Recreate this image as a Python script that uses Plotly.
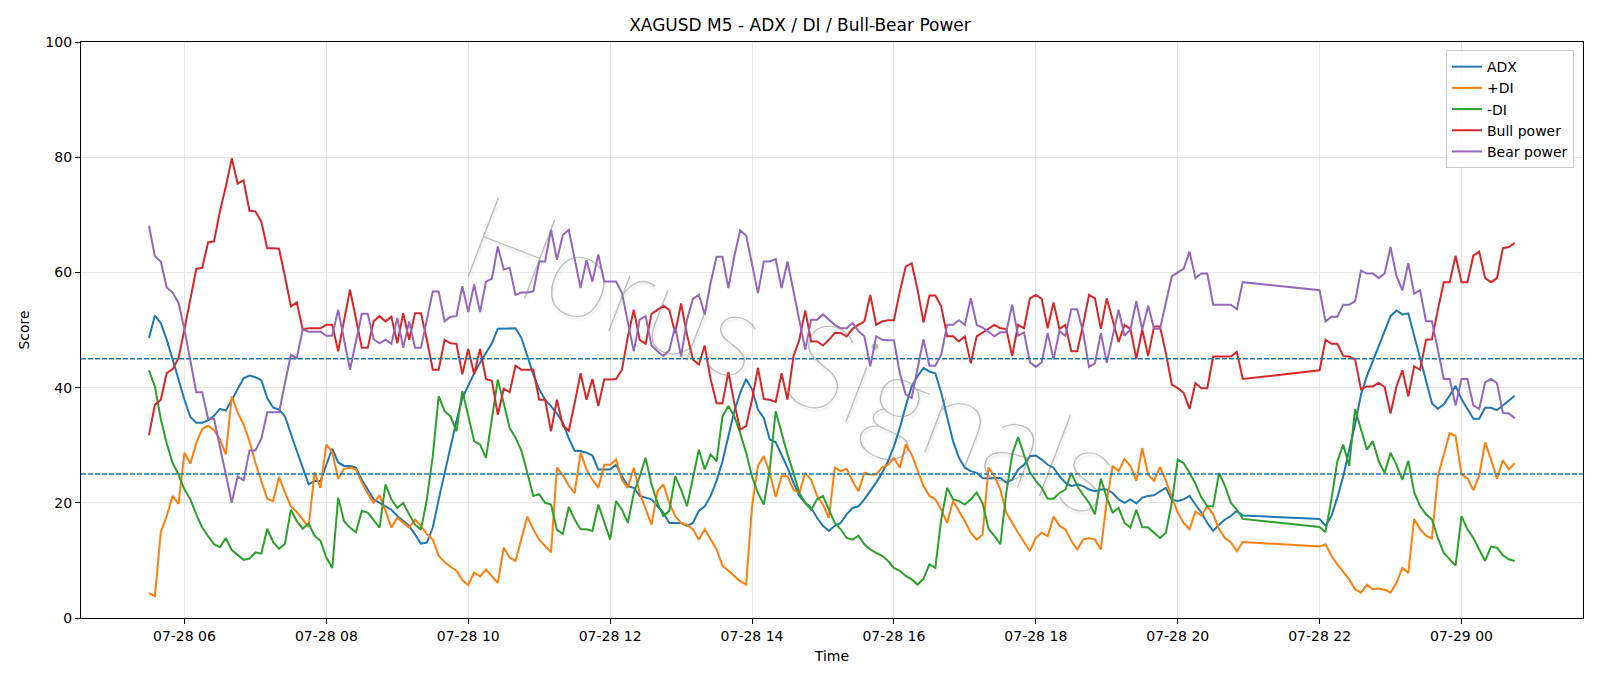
import pandas as pd
import plotly.graph_objects as go

# ---- time axis (two trading segments, 5-minute bars) ----
seg1_start, seg1_end = "2025-07-28 05:30", "2025-07-28 20:55"
seg2_start, seg2_end = "2025-07-28 22:00", "2025-07-29 00:45"
times = list(pd.date_range(seg1_start, seg1_end, freq="5min")) + \
        list(pd.date_range(seg2_start, seg2_end, freq="5min"))

adx = [
    48.6, 52.5, 51.2, 48.3, 44.9, 41.4, 37.9, 34.9, 33.9, 33.9, 34.3, 35.1, 36.3, 36.0, 37.9, 39.9, 41.6, 42.1,
    41.8, 41.3, 38.2, 36.5, 36.2, 35.0, 31.8, 29.0, 26.1, 23.2, 23.8, 23.8, 26.6, 29.4, 27.0, 26.4, 26.4, 26.1,
    24.0, 22.3, 20.6, 20.0, 19.4, 18.8, 17.7, 16.8, 16.0, 14.5, 12.9, 13.1, 15.7, 20.6, 25.2, 29.8, 34.2, 38.2,
    40.5, 42.5, 44.3, 46.0, 47.7, 50.2, 50.2, 50.2, 50.3, 48.6, 45.4, 42.3, 39.7, 37.9, 36.8, 35.5, 33.9, 31.2,
    29.0, 29.0, 28.7, 28.2, 25.8, 25.8, 25.8, 26.6, 24.6, 22.9, 22.6, 21.2, 20.9, 20.6, 19.4, 18.3, 16.5, 16.5,
    16.5, 16.0, 16.5, 18.6, 19.4, 21.2, 23.8, 27.2, 31.3, 35.9, 39.1, 41.5, 39.7, 36.2, 34.7, 31.0, 30.5,
    28.4, 26.1, 23.5, 21.2, 20.0, 19.1, 17.4, 16.0, 15.1, 16.0, 16.5, 18.0, 19.1, 19.4, 20.6, 22.0, 23.5, 25.2,
    27.2, 29.8, 33.0, 36.8, 40.2, 42.0, 43.4, 42.8, 42.5, 39.1, 35.0, 30.7, 27.8, 26.1, 25.5, 25.2, 24.3, 24.2,
    24.3, 24.3, 23.5, 24.0, 25.8, 26.6, 28.1, 28.2, 27.5, 26.6, 26.1, 24.6, 23.5, 22.9, 23.2, 22.9, 22.3, 22.0,
    22.3, 22.3, 21.7, 20.6, 20.0, 20.6, 19.9, 20.9, 21.2, 21.3, 22.0, 22.6, 20.5, 20.3, 20.6, 21.2, 19.7,
    18.3, 16.5, 15.1, 16.2, 17.1, 17.7, 18.6, 17.8,
    17.2, 16.0, 17.7, 20.9, 24.6, 29.2, 33.6, 38.8, 42.0, 44.6, 47.2, 49.5, 52.4, 53.4, 52.7, 52.9,
    48.9, 44.9, 40.8, 37.3, 36.3, 37.1, 38.6, 40.3, 38.0, 36.3, 34.6, 34.6, 36.5, 36.5, 36.1, 36.9, 37.8, 38.6,
]

plus_di = [
    4.3, 3.8, 14.9, 17.7, 21.2, 19.8, 28.7, 26.8, 30.4, 32.8, 33.4, 32.6, 31.0, 28.4, 38.5, 35.7, 33.6, 30.7,
    26.9, 23.8, 20.7, 20.3, 24.5, 21.8, 19.4, 18.4, 17.2, 15.8, 25.3, 22.6, 30.1, 28.8, 24.2, 25.9, 26.1, 25.8,
    23.5, 21.6, 20.0, 21.3, 18.6, 15.7, 17.4, 16.5, 15.7, 17.1, 16.0, 14.6, 13.6, 10.8, 9.7, 8.9, 8.2, 6.6,
    5.7, 7.9, 7.2, 8.4, 7.3, 6.1, 12.2, 10.5, 9.9, 13.6, 17.6, 15.4, 13.6, 12.5, 11.4, 26.1, 24.8, 23.0,
    21.7, 28.7, 25.8, 24.0, 22.6, 26.6, 26.6, 27.5, 24.0, 22.6, 26.1, 21.7, 18.8, 16.2, 22.0, 23.2, 20.0, 17.7,
    16.5, 16.2, 15.4, 13.6, 15.4, 13.6, 11.9, 9.1, 8.2, 7.3, 6.4, 5.8, 19.4, 26.4, 28.1, 25.2, 21.0,
    24.6, 24.6, 22.3, 21.7, 25.2, 24.0, 21.2, 19.7, 17.4, 26.1, 25.5, 25.9, 23.8, 22.0, 25.2, 24.9, 24.9, 26.1,
    26.6, 27.8, 26.1, 30.1, 28.4, 25.5, 22.9, 21.2, 20.6, 18.8, 16.5, 20.3, 18.6, 16.8, 14.8, 13.6, 14.5, 26.1,
    24.6, 22.3, 18.3, 16.5, 14.8, 13.2, 11.6, 13.9, 14.8, 14.2, 17.6, 16.0, 15.4, 13.4, 11.9, 13.6, 13.9, 13.6,
    11.9, 20.3, 26.4, 25.5, 27.6, 26.4, 23.8, 29.5, 24.9, 23.8, 26.2, 23.8, 20.9, 18.3, 16.5, 15.4, 18.5,
    17.8, 19.4, 18.0, 15.4, 13.9, 13.1, 11.6, 13.2,
    12.4, 12.8, 10.8, 9.3, 7.9, 6.7, 5.0, 4.4, 5.8, 5.0, 5.1, 4.9, 4.4, 6.1, 8.7, 7.8,
    17.2, 15.4, 14.3, 13.8, 24.6, 28.4, 32.1, 31.6, 24.9, 24.3, 22.2, 24.7, 30.5, 27.5, 24.2, 27.4, 25.8, 26.9,
]

minus_di = [
    43.0, 40.2, 34.5, 30.3, 26.9, 24.9, 22.3, 20.6, 18.0, 15.7, 14.2, 12.8, 12.3, 13.9, 11.8, 10.9, 10.1, 10.3,
    11.4, 11.2, 15.5, 13.2, 12.0, 12.9, 18.8, 16.8, 15.5, 16.4, 14.3, 13.4, 10.5, 8.7, 20.9, 16.8, 15.7, 14.9,
    18.6, 18.3, 17.1, 15.7, 23.2, 20.6, 19.1, 20.0, 18.0, 16.2, 15.3, 20.6, 28.1, 38.5, 35.9, 35.0, 32.4, 39.4,
    35.1, 30.7, 30.1, 27.8, 34.6, 41.4, 37.3, 33.0, 31.3, 29.0, 25.2, 21.2, 21.5, 20.0, 19.7, 15.3, 14.6, 19.3,
    17.1, 15.4, 15.4, 15.1, 19.7, 16.5, 13.6, 20.3, 18.8, 16.5, 21.7, 24.6, 27.8, 23.2, 20.0, 17.7, 18.6, 24.6,
    22.3, 19.4, 24.0, 29.2, 25.8, 28.4, 27.2, 35.0, 36.8, 35.0, 32.1, 28.7, 24.6, 21.7, 19.7, 25.8, 35.9,
    32.1, 28.4, 25.2, 21.7, 20.0, 18.8, 20.6, 21.2, 18.8, 16.5, 15.4, 13.9, 13.6, 14.3, 12.8, 11.9, 11.3, 10.8,
    9.9, 8.7, 8.2, 7.3, 6.7, 5.8, 6.8, 9.3, 8.7, 17.1, 22.6, 20.6, 20.3, 19.7, 20.6, 21.8, 19.9, 15.5,
    14.2, 12.8, 21.7, 28.4, 31.4, 28.4, 25.3, 23.8, 22.6, 20.7, 20.7, 21.7, 22.3, 25.2, 22.9, 21.4, 20.0, 18.0,
    24.2, 20.9, 18.3, 19.1, 16.5, 15.7, 18.8, 15.8, 15.7, 14.8, 13.9, 14.8, 20.0, 27.5, 26.9, 25.2, 23.3,
    20.9, 19.4, 19.4, 25.2, 22.9, 20.0, 18.8, 17.2,
    15.8, 14.9, 20.6, 27.2, 30.1, 26.4, 36.3, 32.7, 29.2, 30.7, 27.2, 25.2, 28.7, 26.6, 24.0, 27.3,
    21.8, 19.4, 18.0, 17.1, 13.9, 11.3, 10.2, 9.1, 17.7, 15.4, 13.9, 11.9, 9.9, 12.4, 12.2, 10.9, 10.2, 9.9,
]

bull_power = [
    31.7, 37.0, 37.9, 42.5, 43.2, 45.1, 50.1, 55.3, 60.6, 60.8, 65.2, 65.4, 70.6, 74.9, 79.8, 75.4, 76.0, 70.7,
    70.6, 68.8, 64.2, 64.2, 64.1, 59.3, 54.1, 54.8, 50.1, 50.3, 50.3, 50.3, 50.9, 50.9, 46.3, 51.5, 57.0, 52.0,
    46.9, 46.9, 51.5, 52.4, 51.5, 52.3, 47.7, 52.9, 48.3, 52.9, 52.9, 48.3, 43.1, 43.1, 48.3, 47.7, 47.6, 42.3,
    46.7, 42.3, 46.7, 41.5, 41.2, 35.3, 39.8, 39.2, 43.8, 43.1, 43.1, 43.1, 37.9, 37.9, 32.4, 37.9, 33.4, 32.5,
    37.3, 42.5, 37.9, 41.5, 36.8, 41.4, 41.4, 41.5, 43.1, 48.9, 53.5, 48.3, 47.6, 52.8, 53.5, 54.2, 53.5, 49.5,
    54.6, 49.2, 44.9, 44.0, 47.3, 41.4, 37.3, 37.3, 42.7, 37.3, 32.7, 33.3, 37.9, 43.4, 38.0, 37.9, 37.5,
    42.5, 37.9, 45.4, 48.3, 53.4, 48.0, 48.0, 47.3, 48.3, 49.5, 49.5, 48.9, 50.2, 50.9, 51.5, 56.1, 50.9, 51.5,
    51.7, 51.7, 56.7, 61.0, 61.6, 57.0, 51.3, 56.0, 56.0, 54.1, 48.9, 48.9, 48.0, 48.9, 44.2, 48.9, 49.6, 50.3,
    50.9, 50.3, 50.2, 45.5, 50.9, 50.3, 55.5, 56.1, 55.4, 50.3, 54.8, 50.2, 50.9, 46.3, 46.3, 50.9, 56.1, 55.5,
    50.2, 55.5, 51.5, 47.9, 50.9, 50.2, 45.0, 50.1, 45.5, 50.6, 50.6, 46.0, 40.5, 39.9, 39.1, 36.3, 40.8,
    39.9, 39.9, 45.4, 45.4, 45.4, 45.4, 46.2, 41.5,
    43.0, 48.3, 47.6, 47.6, 45.5, 45.4, 44.9, 39.7, 40.2, 40.2, 40.8, 40.1, 35.5, 40.2, 43.0, 38.5,
    43.7, 43.1, 48.3, 48.4, 53.5, 58.3, 58.3, 62.9, 58.3, 58.3, 62.9, 63.6, 59.0, 58.3, 59.0, 64.2, 64.4, 65.1,
]

bear_power = [
    68.1, 62.8, 61.9, 57.4, 56.5, 54.7, 50.1, 44.6, 39.2, 39.2, 34.6, 34.6, 29.8, 24.6, 20.0, 24.6, 23.9, 29.1,
    29.1, 31.1, 35.7, 35.7, 35.7, 40.8, 45.7, 45.1, 50.1, 49.7, 49.7, 49.7, 49.0, 49.0, 53.5, 48.5, 43.1, 48.0,
    52.8, 52.8, 48.4, 47.7, 48.3, 47.6, 52.1, 46.9, 51.5, 46.9, 46.9, 51.8, 56.7, 56.7, 51.5, 52.3, 52.4, 57.6,
    53.1, 57.9, 53.1, 58.4, 58.9, 64.5, 60.5, 60.8, 56.1, 56.5, 56.5, 56.7, 61.9, 61.9, 67.4, 62.2, 66.5, 67.4,
    62.2, 57.3, 62.1, 58.4, 63.1, 58.4, 58.4, 58.4, 56.4, 51.5, 46.3, 51.8, 52.4, 47.3, 46.3, 45.5, 46.5, 50.6,
    45.4, 51.8, 55.4, 56.1, 52.7, 58.2, 62.7, 62.7, 57.3, 62.8, 67.3, 66.4, 61.6, 56.4, 61.9, 61.9, 62.3,
    57.3, 61.9, 57.0, 52.1, 46.6, 51.8, 51.8, 52.7, 51.8, 50.9, 50.3, 50.3, 51.2, 49.8, 48.9, 43.7, 48.9, 48.3,
    48.2, 48.2, 42.5, 38.8, 38.2, 43.1, 48.4, 43.8, 43.8, 45.7, 50.9, 50.9, 51.7, 50.9, 55.5, 50.9, 50.4, 49.7,
    48.9, 49.6, 49.6, 54.4, 49.0, 49.6, 44.4, 43.6, 44.4, 49.5, 44.9, 49.8, 49.0, 53.6, 53.6, 49.6, 43.6, 44.2,
    49.5, 44.3, 48.9, 53.5, 49.0, 50.1, 55.0, 50.1, 54.2, 50.2, 50.2, 54.7, 59.3, 60.0, 60.6, 63.6, 59.0,
    59.8, 59.8, 54.4, 54.4, 54.4, 54.4, 53.6, 58.3,
    56.9, 51.5, 52.3, 52.3, 54.4, 54.4, 55.0, 60.3, 59.8, 59.8, 59.0, 59.8, 64.4, 59.4, 56.9, 61.6,
    56.3, 56.9, 51.5, 51.5, 46.6, 41.5, 41.5, 36.9, 41.5, 41.5, 36.9, 36.3, 40.9, 41.5, 40.8, 35.6, 35.5, 34.7,
]

series_names = ["ADX", "+DI", "-DI", "Bull power", "Bear power"]
series_colors = ["#1f77b4", "#ff7f0e", "#2ca02c", "#d62728", "#9467bd"]
threshold_levels = [45, 25]
y_ticks = [0, 20, 40, 60, 80, 100]
title_text = "XAGUSD M5 - ADX / DI / Bull-Bear Power"
watermark_text = "Horus Signals"

FONT = "DejaVu Sans, Verdana, sans-serif"

fig = go.Figure()
for name, color, vals in zip(series_names, series_colors,
                             [adx, plus_di, minus_di, bull_power, bear_power]):
    fig.add_trace(go.Scatter(x=times, y=vals, mode="lines", name=name,
                             line=dict(color=color, width=2)))

for lvl in threshold_levels:
    fig.add_hline(y=lvl, line=dict(color="#1f77b4", width=1.4, dash="5px,2px"))

fig.add_annotation(text=watermark_text, xref="paper", yref="paper",
                   x=0.474, y=0.462, showarrow=False, textangle=21,
                   font=dict(family="Lato, Roboto, DejaVu Sans, sans-serif", size=120,
                             weight=200, color="rgba(130,130,130,0.50)",
                             shadow="2px 2px 2px rgba(110,110,110,0.30)"))

fig.update_layout(
    width=1600, height=686,
    margin=dict(l=81, r=17, t=42, b=68),
    paper_bgcolor="white", plot_bgcolor="white",
    font=dict(family=FONT, size=14, color="black"),
    title=dict(text=title_text, x=0.5, xanchor="center", y=1 - 25 / 686,
               yanchor="middle", yref="container",
               font=dict(family=FONT, size=17, color="black")),
    showlegend=True,
    legend=dict(x=0.994, y=0.986, xanchor="right", yanchor="top",
                bgcolor="rgba(255,255,255,0.8)", bordercolor="#cccccc",
                borderwidth=1, font=dict(family=FONT, size=14, color="black"),
                tracegroupgap=0, itemwidth=30),
)

fig.update_xaxes(
    type="date",
    range=["2025-07-28 04:32:30", "2025-07-29 01:42:45"],
    tick0="2025-07-28 06:00", dtick=2 * 3600 * 1000, tickformat="%m-%d %H",
    showgrid=True, gridcolor="#e6e6e6", gridwidth=1,
    showline=True, linecolor="black", linewidth=1.2, mirror=True,
    ticks="outside", ticklen=5, tickcolor="black",
    tickfont=dict(family=FONT, size=14, color="black"),
    title=dict(text="Time", font=dict(family=FONT, size=14, color="black"), standoff=8),
    zeroline=False,
)
fig.update_yaxes(
    range=[0, 100], tickvals=y_ticks,
    showgrid=True, gridcolor="#e6e6e6", gridwidth=1,
    showline=True, linecolor="black", linewidth=1.2, mirror=True,
    ticks="outside", ticklen=5, tickcolor="black",
    tickfont=dict(family=FONT, size=14, color="black"),
    title=dict(text="Score", font=dict(family=FONT, size=14, color="black"), standoff=12),
    zeroline=False,
)

fig.write_html("out.html")
